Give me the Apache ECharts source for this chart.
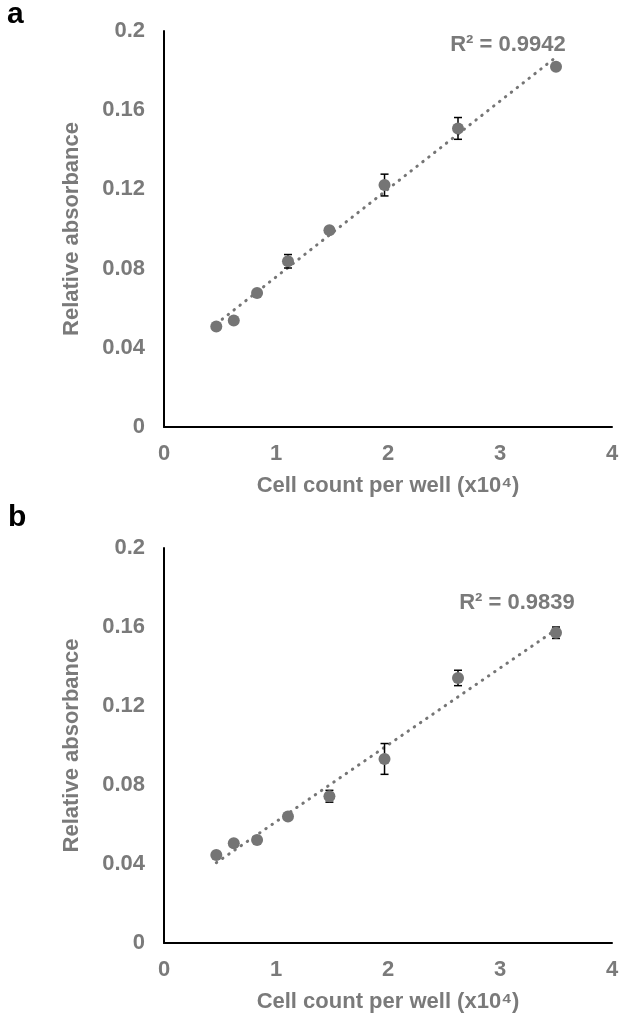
<!DOCTYPE html>
<html>
<head>
<meta charset="utf-8">
<script src="https://cdn.jsdelivr.net/npm/echarts@6/dist/echarts.min.js"></script>
<style>
html,body{margin:0;padding:0;background:#fff;}
#chart{width:630px;height:1019px;}
</style>
</head>
<body>
<div id="chart"></div>
<script>
// ---- data ----
const cellCounts = [0.467, 0.623, 0.831, 1.107, 1.477, 1.969, 2.625, 3.5];
const absA = [0.0508, 0.0538, 0.0677, 0.0837, 0.0994, 0.1222, 0.1508, 0.1819];
const errA = [0.0010, 0.0010, 0.0010, 0.0034, 0.0010, 0.0055, 0.0055, 0.0010];
const absB = [0.0446, 0.0505, 0.0522, 0.0640, 0.0743, 0.0932, 0.1342, 0.1571];
const errB = [0.0015, 0.0015, 0.0012, 0.0010, 0.0030, 0.0078, 0.0039, 0.0029];
const r2Labels = ['R\u00b2 = 0.9942', 'R\u00b2 = 0.9839'];
const panelLetters = ['a', 'b'];
const xTicks = [0, 1, 2, 3, 4];
const yTicks = [0, 0.04, 0.08, 0.12, 0.16, 0.2];
const xTitle = 'Cell count per well (x10\u2074)';
const yTitle = 'Relative absorbance';

// least-squares trendline (as drawn by the spreadsheet) from the data
function fit(xs, ys) {
  const n = xs.length;
  const mx = xs.reduce((a, b) => a + b, 0) / n;
  const my = ys.reduce((a, b) => a + b, 0) / n;
  let sxy = 0, sxx = 0;
  for (let i = 0; i < n; i++) { sxy += (xs[i] - mx) * (ys[i] - my); sxx += (xs[i] - mx) ** 2; }
  const m = sxy / sxx, c = my - m * mx;
  const x0 = Math.min(...xs), x1 = Math.max(...xs);
  return [[x0, m * x0 + c], [x1, m * x1 + c]];
}

const FONT = '"Liberation Sans", Arial, sans-serif';
const GREY = '#757575';
const TEXT = '#7a7a7a';

function axisPair(idx) {
  return {
    x: {
      type: 'value', gridIndex: idx, min: 0, max: 4, interval: 1,
      axisLine: {show: true, lineStyle: {color: '#000', width: 2}},
      axisTick: {show: false}, splitLine: {show: false},
      axisLabel: {color: TEXT, fontSize: 22, fontWeight: 'bold', fontFamily: FONT, margin: 16,
                  formatter: v => xTicks.includes(v) ? String(v) : ''},
      name: xTitle, nameLocation: 'middle', nameGap: 48,
      nameTextStyle: {color: TEXT, fontSize: 22, fontWeight: 'bold', fontFamily: FONT}
    },
    y: {
      type: 'value', gridIndex: idx, min: 0, max: 0.2, interval: 0.04,
      axisLine: {show: true, lineStyle: {color: '#000', width: 2}},
      axisTick: {show: false}, splitLine: {show: false},
      axisLabel: {color: TEXT, fontSize: 22, fontWeight: 'bold', fontFamily: FONT, margin: 19,
                  formatter: v => { const t = yTicks.find(k => Math.abs(k - v) < 1e-9); return t === undefined ? '' : String(t); }},
      name: yTitle, nameLocation: 'middle', nameGap: 81,
      nameTextStyle: {color: TEXT, fontSize: 22, fontWeight: 'bold', fontFamily: FONT}
    }
  };
}

function errorSeries(idx, ys, es) {
  return {
    type: 'custom', xAxisIndex: idx, yAxisIndex: idx, z: 3,
    data: cellCounts.map((x, i) => [x, ys[i] - es[i], ys[i] + es[i]]),
    renderItem: function (params, api) {
      const lo = api.coord([api.value(0), api.value(1)]);
      const hi = api.coord([api.value(0), api.value(2)]);
      const w = 4;
      const style = {stroke: '#000', lineWidth: 1.5};
      return {type: 'group', children: [
        {type: 'line', shape: {x1: lo[0], y1: lo[1], x2: hi[0], y2: hi[1]}, style},
        {type: 'line', shape: {x1: lo[0] - w, y1: lo[1], x2: lo[0] + w, y2: lo[1]}, style},
        {type: 'line', shape: {x1: hi[0] - w, y1: hi[1], x2: hi[0] + w, y2: hi[1]}, style}
      ]};
    }
  };
}

function panelSeries(idx, ys, es) {
  return [
    {type: 'line', xAxisIndex: idx, yAxisIndex: idx, data: fit(cellCounts, ys), showSymbol: false, z: 2,
     lineStyle: {color: GREY, width: 3, type: [0.5, 7], cap: 'round'}, silent: true},
    errorSeries(idx, ys, es),
    {type: 'scatter', xAxisIndex: idx, yAxisIndex: idx, z: 4, symbolSize: 12,
     itemStyle: {color: GREY, opacity: 1}, data: cellCounts.map((x, i) => [x, ys[i]])}
  ];
}

const axA = axisPair(0), axB = axisPair(1);
const chart = echarts.init(document.getElementById('chart'), null, {renderer: 'canvas'});
chart.setOption({
  backgroundColor: '#fff',
  animation: false,
  grid: [
    {left: 164, top: 31, width: 448, height: 396},
    {left: 164, top: 548, width: 448, height: 395}
  ],
  xAxis: [axA.x, axB.x],
  yAxis: [axA.y, axB.y],
  series: [...panelSeries(0, absA, errA), ...panelSeries(1, absB, errB)],
  graphic: [
    {type: 'text', left: 7, top: 0, style: {text: panelLetters[0], fill: '#000', font: 'bold 30px ' + FONT}},
    {type: 'text', left: 8, top: 503, style: {text: panelLetters[1], fill: '#000', font: 'bold 30px ' + FONT}},
    {type: 'text', x: 508, y: 45, style: {text: r2Labels[0], fill: TEXT, font: 'bold 22px ' + FONT, align: 'center', verticalAlign: 'middle'}},
    {type: 'text', x: 517, y: 603, style: {text: r2Labels[1], fill: TEXT, font: 'bold 22px ' + FONT, align: 'center', verticalAlign: 'middle'}}
  ]
});
</script>
</body>
</html>
